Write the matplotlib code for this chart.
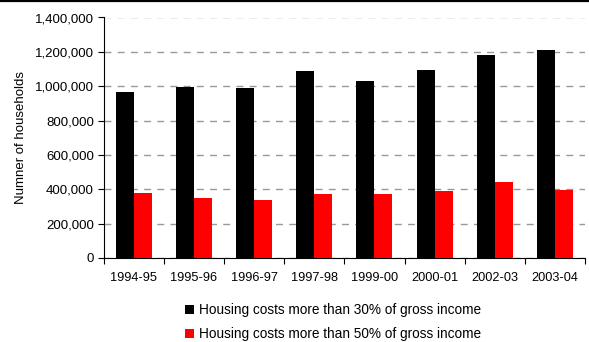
import matplotlib
matplotlib.use("Agg")
import matplotlib.pyplot as plt
from matplotlib.lines import Line2D
from matplotlib.ticker import FuncFormatter
import numpy as np

plt.rcParams['font.family'] = ['Liberation Sans', 'DejaVu Sans']

# データ
years = ["1994-95", "1995-96", "1996-97", "1997-98",
         "1999-00", "2000-01", "2002-03", "2003-04"]
over_30 = [968000, 993000, 987000, 1086000, 1030000, 1092000, 1181000, 1212000]
over_50 = [376000, 351000, 337000, 370000, 370000, 388000, 442000, 396000]
label_30 = "Housing costs more than 30% of gross income"
label_50 = "Housing costs more than 50% of gross income"

fig = plt.figure(figsize=(5.89, 3.42), dpi=100)
ax = fig.add_axes([103.7 / 589, 84 / 342, 481.3 / 589, 240.5 / 342])

x = np.arange(len(years))
w = 0.3
ax.bar(x - w / 2, over_30, w, color="black", label=label_30, zorder=3)
ax.bar(x + w / 2, over_50, w, color="#ff0000", label=label_50, zorder=3)

# 軸の設定
ax.set_xlim(-0.5, len(years) - 0.5)
ax.set_ylim(0, 1400000)
ax.set_yticks(np.arange(0, 1400001, 200000))
ax.yaxis.set_major_formatter(FuncFormatter(lambda v, p: f"{int(v):,}"))
ax.set_xticks(x)
ax.set_xticklabels(years)
ax.set_xticks(np.arange(-0.5, len(years)), minor=True)
ax.tick_params(axis="x", which="major", length=0, pad=10, labelsize=9.2)
ax.tick_params(axis="x", which="minor", length=4, width=0.8, direction="out")
ax.tick_params(axis="y", length=4, width=0.8, pad=3, labelsize=9.5)

for s in ["top", "right"]:
    ax.spines[s].set_visible(False)
for s in ["left", "bottom"]:
    ax.spines[s].set_linewidth(0.8)

# グリッド
ax.yaxis.grid(True, color="#999999", linestyle=(0, (5, 4.5)), linewidth=1.0, zorder=0)
ax.set_axisbelow(True)

ax.set_ylabel("Numner of households", fontsize=9.5)
ax.yaxis.set_label_coords(-0.16, 0.5)

ax.legend(loc="upper left", bbox_to_anchor=(185 / 589, 39 / 342),
          bbox_transform=fig.transFigure, frameon=False, fontsize=9.8,
          handlelength=0.65, handleheight=0.65, handletextpad=0.4,
          labelspacing=0.75, borderpad=0, borderaxespad=0)

# 上部の枠線
fig.add_artist(Line2D([0, 1], [0.997, 0.997], color="black", linewidth=1.6,
                      transform=fig.transFigure))

fig.savefig("out.png", dpi=100)
